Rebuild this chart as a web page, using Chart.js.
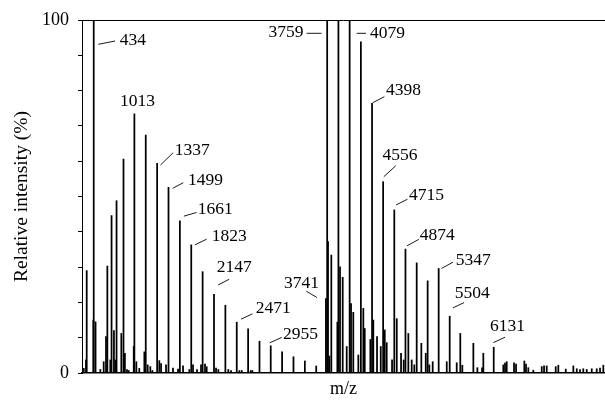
<!DOCTYPE html>
<html>
<head>
<meta charset="utf-8">
<script src="https://cdn.jsdelivr.net/npm/chart.js@4.4.1/dist/chart.umd.min.js"></script>
<style>
  html, body { margin: 0; padding: 0; background: #fff; }
  #wrap { width: 605px; height: 400px; }
</style>
</head>
<body>
<div id="wrap"><canvas id="spectrum"></canvas></div>
<script>
// peak positions (m/z) and relative intensities (%)
const mz = [
  292, 324, 334, 428, 434, 460, 528, 576, 609, 628, 670, 688, 722, 742, 759,
  827, 858, 878, 908, 932, 1004, 1013, 1041, 1083, 1155, 1175, 1203, 1240, 1269,
  1337, 1368, 1393, 1464, 1499, 1563, 1635, 1661, 1706, 1796, 1823, 1848, 1905,
  1962, 1985, 2019, 2043, 2147, 2176, 2209, 2309, 2351, 2390, 2471, 2508, 2542,
  2633, 2670, 2693, 2795, 2955, 3117, 3279, 3441, 3603,
  3741, 3759, 3771, 3790, 3818, 3904, 3919, 3942, 3980, 4037, 4079, 4099, 4131,
  4203, 4239, 4274, 4294, 4374, 4398, 4416, 4469, 4522, 4556, 4579, 4607, 4683,
  4715, 4750, 4811, 4849, 4874, 4915, 4963, 5000, 5034, 5100, 5163, 5190, 5214,
  5262, 5347, 5462, 5504, 5604, 5655, 5684, 5841, 5898, 5965, 5983, 6131, 6268,
  6292, 6316, 6420, 6449, 6567, 6591, 6624, 6695, 6815, 6848, 6886, 7014, 7051,
  7157, 7265, 7314, 7360, 7407, 7456, 7527, 7598, 7645, 7692
];
const intensity = [
  1.3, 3.7, 29, 15, 100, 14.5, 1, 3.2, 10.3, 30.3, 3.7, 44.6, 12, 3.7, 48.8,
  11.2, 60.6, 5.6, 1, 0.7, 7.6, 73.4, 3.2, 1.3, 6, 67.4, 2.3, 1.8, 0.7,
  59.4, 3.5, 2.7, 2.3, 52.6, 1.4, 1.1, 43.1, 2, 1, 36.3, 2.3, 1,
  2.3, 28.7, 2.5, 1.8, 22.3, 1.4, 1, 19.2, 1, 0.7, 14.4, 0.7, 0.7,
  12.5, 0.7, 0.7, 9, 7.7, 6, 4.6, 3.4, 2,
  21.1, 100, 37.2, 4.8, 33.4, 14.4, 100, 30.1, 27.1, 7.5, 100, 19.7, 17.2,
  5.1, 93.8, 18.3, 12.6, 9.5, 76.4, 15, 10.3, 7.5, 54.2, 12.2, 8.6, 3.7,
  46.2, 15.4, 5.6, 3.7, 35.1, 11.2, 3.7, 2.3, 31.2, 8.4, 5.6, 26.1, 2.3,
  3.2, 29.6, 3.2, 16.1, 2.9, 11.2, 2.2, 8.4, 1.5, 1.5, 5.6, 7.3, 2.3,
  2.8, 3.2, 2.9, 2.5, 3.4, 2.5, 1.5, 0.8, 1.8, 2, 2, 1.8, 2.2,
  1.1, 2, 1.2, 1, 1.2, 1, 1.2, 1.2, 1.4, 2.2
];
const labelledPeaks = [434, 1013, 1337, 1499, 1661, 1823, 2147, 2471, 2955,
  3741, 3759, 4079, 4398, 4556, 4715, 4874, 5347, 5504, 6131];
const yTickLabels = ['0', '100'];

// label placement, offsets from the peak top in px:
// [text dx, text dy, align, leader x1, y1, x2, y2]
const labelLayout = [
  [26, 20, 'left', 4.6, 24.3, 21.3, 21],
  [3, -12.5, 'center', null],
  [17.7, -12.6, 'left', 3.4, 1.7, 16, -10.6],
  [19.5, -6.8, 'left', 4.2, 1, 14.8, -4.6],
  [18, -11.4, 'left', 4, -4.7, 16.7, -8.4],
  [20.4, -8.3, 'left', 3.7, 0, 15.4, -5.7],
  [2.8, -27, 'left', 4.2, -9.3, 15.2, -15],
  [19, -14, 'left', 4.3, -3, 15.7, -8.3],
  [12.3, -11.7, 'left', -1, -3, 11, -8.4],
  [-42, -15, 'left', -19.6, -7.3, -9, -1],
  [-23.8, 12, 'right', -20.6, 13.3, -5.6, 13.3],
  [20.3, 13, 'left', 7, 13.3, 16.3, 13.3],
  [14, -13.3, 'left', 0.7, -0.6, 12.3, -6.6],
  [-0.6, -26, 'left', 0.7, -5, 12.7, -16],
  [14.8, -15, 'left', 1.8, -5, 13.2, -10.7],
  [14.3, -14, 'left', 1.6, -3.3, 13.3, -9.7],
  [17, -8.3, 'left', 2.7, 0, 14.3, -6.3],
  [5, -22.7, 'left', 3.3, -8.3, 14.3, -13.5],
  [-3.7, -20.6, 'left', -0.4, -4.6, 11.3, -10]
];

const serif = '"Liberation Serif", "DejaVu Serif", serif';

const peakLabels = {
  id: 'peakLabels',
  afterDatasetsDraw(chart) {
    const { ctx, chartArea, scales: { x, y } } = chart;
    ctx.save();
    // top frame line
    ctx.strokeStyle = '#000';
    ctx.lineWidth = 1;
    ctx.beginPath();
    ctx.moveTo(chartArea.left, chartArea.top + 0.5);
    ctx.lineTo(chartArea.right, chartArea.top + 0.5);
    ctx.stroke();

    ctx.font = '17.5px ' + serif;
    ctx.fillStyle = '#000';
    ctx.textBaseline = 'middle';
    ctx.lineWidth = 0.9;
    labelledPeaks.forEach((m, i) => {
      const px = x.getPixelForValue(m);
      const py = y.getPixelForValue(intensity[mz.indexOf(m)]);
      const [tx, ty, align, x1, y1, x2, y2] = labelLayout[i];
      if (x1 !== null && x1 !== undefined) {
        ctx.beginPath();
        ctx.moveTo(px + x1, py + y1);
        ctx.lineTo(px + x2, py + y2);
        ctx.stroke();
      }
      ctx.textAlign = align;
      ctx.fillText(String(m), px + tx, py + ty);
    });
    ctx.restore();
  }
};

new Chart(document.getElementById('spectrum'), {
  type: 'bar',
  data: {
    datasets: [{
      data: mz.map((m, i) => ({ x: m, y: intensity[i] })),
      backgroundColor: '#000',
      barThickness: 1.1,
      grouped: false
    }]
  },
  options: {
    responsive: true,
    maintainAspectRatio: false,
    animation: false,
    devicePixelRatio: 1,
    layout: { padding: { top: 20, right: 0, left: 0, bottom: 0 } },
    plugins: { legend: { display: false }, tooltip: { enabled: false } },
    scales: {
      x: {
        type: 'linear',
        min: 267,
        max: 7716,
        offset: false,
        ticks: { display: false },
        grid: { display: false },
        border: { color: '#000', width: 1.5 },
        title: {
          display: true, text: 'm/z', color: '#000',
          font: { family: serif, size: 18 },
          padding: { top: 0, bottom: 0 }
        },
        afterFit(scale) { scale.height = 27; }
      },
      y: {
        min: 0,
        max: 100,
        ticks: {
          stepSize: 10,
          padding: 9,
          color: '#000',
          font: { family: serif, size: 18 },
          callback: v => yTickLabels.includes(String(v)) ? String(v) : ''
        },
        grid: { drawOnChartArea: false, tickLength: 4, color: '#000' },
        border: { color: '#000', width: 1 },
        title: {
          display: true, text: 'Relative intensity (%)', color: '#000',
          font: { family: serif, size: 19.5 },
          padding: { top: 10, bottom: 0 }
        },
        afterFit(scale) { scale.width = 82; }
      }
    }
  },
  plugins: [peakLabels]
});
</script>
</body>
</html>
